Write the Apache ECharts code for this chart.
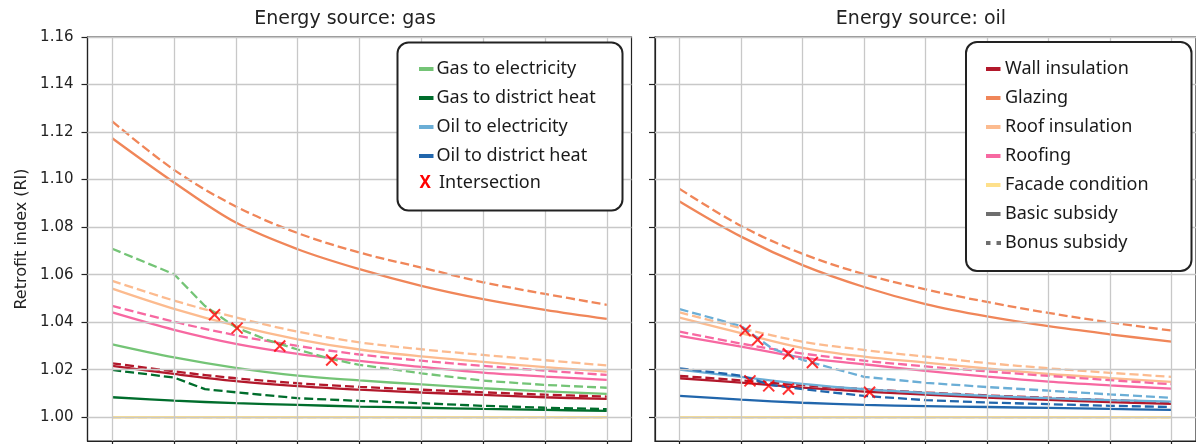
<!DOCTYPE html>
<html>
<head>
<meta charset="utf-8">
<script src="https://cdn.jsdelivr.net/npm/echarts@6/dist/echarts.min.js"></script>
<style>
html,body{margin:0;padding:0;background:#fff;}
#c{width:1196px;height:444px;}
</style>
</head>
<body>
<div id="c"></div>
<script>
// ---------- data ----------
const xs = [0, 1, 2, 3, 4, 5, 6, 7, 8];
const xGridValues = [0, 1, 2, 3, 4, 5, 6, 7, 8];
const yTickValues = [1.00, 1.02, 1.04, 1.06, 1.08, 1.10, 1.12, 1.14, 1.16];

// Energy source: gas
const gasFacadeBasic  = [1.0, 1.0, 1.0, 1.0, 1.0, 1.0, 1.0, 1.0, 1.0];
const gasFacadeBonus  = [1.0, 1.0, 1.0, 1.0, 1.0, 1.0, 1.0, 1.0, 1.0];
const gasWallBasic    = [1.0216, 1.0182, 1.0152, 1.0131, 1.0116, 1.0104, 1.0094, 1.0084, 1.0077];
const gasWallBonus    = [1.0227, 1.0193, 1.0164, 1.0143, 1.0128, 1.0116, 1.0105, 1.0095, 1.0087];
const gasGlazingBasic = [1.1174, 1.0988, 1.0819, 1.0707, 1.0623, 1.0553, 1.0497, 1.0452, 1.0414];
const gasGlazingBonus = [1.1245, 1.1041, 1.0887, 1.0775, 1.0693, 1.0630, 1.0568, 1.0519, 1.0473];
const gasRoofInsBasic = [1.0541, 1.0456, 1.0385, 1.0328, 1.0285, 1.0256, 1.0233, 1.0211, 1.0192];
const gasRoofInsBonus = [1.0574, 1.0491, 1.0420, 1.0360, 1.0315, 1.0286, 1.0262, 1.0240, 1.0218];
const gasRoofingBasic = [1.0441, 1.0368, 1.0309, 1.0267, 1.0237, 1.0212, 1.0188, 1.0171, 1.0157];
const gasRoofingBonus = [1.0469, 1.0402, 1.0345, 1.0300, 1.0264, 1.0238, 1.0216, 1.0196, 1.0178];
const gasElecBasic    = [1.0307, 1.0252, 1.0208, 1.0175, 1.0155, 1.0138, 1.0122, 1.0109, 1.0098];
const gasElecBonusX   = [0, 1, 1.5, 2, 2.5, 3, 3.5, 4, 5, 6, 7, 8];
const gasElecBonus    = [1.0709, 1.0602, 1.0468, 1.0378, 1.0326, 1.0285, 1.0248, 1.0220, 1.0185, 1.0154, 1.0136, 1.0124];
const gasDHBasic      = [1.0084, 1.0070, 1.0059, 1.0052, 1.0045, 1.0040, 1.0035, 1.0031, 1.0027];
const gasDHBonusX     = [0, 1, 1.5, 2, 3, 4, 5, 6, 7, 8];
const gasDHBonus      = [1.0199, 1.0167, 1.0118, 1.0105, 1.0080, 1.0069, 1.0059, 1.0048, 1.0040, 1.0034];
const gasIntersectX   = [1.655, 2.02, 2.71, 3.55];
const gasIntersectY   = [1.0431, 1.0375, 1.0300, 1.0241];

// Energy source: oil
const oilFacadeBasic  = [1.0, 1.0, 1.0, 1.0, 1.0, 1.0, 1.0, 1.0, 1.0];
const oilFacadeBonus  = [1.0, 1.0, 1.0, 1.0, 1.0, 1.0, 1.0, 1.0, 1.0];
const oilWallBasic    = [1.0164, 1.0146, 1.0125, 1.0108, 1.0095, 1.0083, 1.0073, 1.0064, 1.0056];
const oilWallBonus    = [1.0174, 1.0155, 1.0135, 1.0118, 1.0104, 1.0092, 1.0082, 1.0072, 1.0063];
const oilGlazingBasic = [1.0908, 1.0760, 1.0640, 1.0548, 1.0476, 1.0424, 1.0383, 1.0349, 1.0318];
const oilGlazingBonus = [1.0961, 1.0805, 1.0688, 1.0602, 1.0538, 1.0485, 1.0439, 1.0399, 1.0365];
const oilRoofInsBasic = [1.0419, 1.0354, 1.0292, 1.0255, 1.0230, 1.0205, 1.0182, 1.0165, 1.0149];
const oilRoofInsBonus = [1.0441, 1.0375, 1.0318, 1.0283, 1.0255, 1.0228, 1.0206, 1.0187, 1.0170];
const oilRoofingBasic = [1.0342, 1.0297, 1.0251, 1.0223, 1.0195, 1.0171, 1.0150, 1.0134, 1.0120];
const oilRoofingBonus = [1.0360, 1.0310, 1.0268, 1.0238, 1.0214, 1.0193, 1.0174, 1.0156, 1.0139];
const oilElecBasic    = [1.0200, 1.0170, 1.0140, 1.0118, 1.0102, 1.0090, 1.0080, 1.0072, 1.0066];
const oilElecBonusX   = [0, 1, 1.5, 2, 3, 4, 5, 6, 7, 8];
const oilElecBonus    = [1.0455, 1.0384, 1.0290, 1.0241, 1.0170, 1.0145, 1.0127, 1.0112, 1.0096, 1.0082];
const oilDHBasic      = [1.0090, 1.0074, 1.0061, 1.0052, 1.0047, 1.0043, 1.0039, 1.0035, 1.0031];
const oilDHBonusX     = [0, 1, 1.5, 2, 3, 4, 5, 6, 7, 8];
const oilDHBonus      = [1.0206, 1.0175, 1.0135, 1.0118, 1.0090, 1.0072, 1.0062, 1.0055, 1.0048, 1.0043];
const oilIntersectX   = [1.065, 1.27, 1.77, 2.16, 1.145, 1.45, 1.77, 3.09];
const oilIntersectY   = [1.0365, 1.0326, 1.0267, 1.0230, 1.0153, 1.0132, 1.0119, 1.0105];

// text
const panelTitles = ['Energy source: gas', 'Energy source: oil'];
const yAxisTitle = 'Retrofit index (RI)';
const legendConversions = ['Gas to electricity', 'Gas to district heat', 'Oil to electricity', 'Oil to district heat', 'Intersection'];
const legendMeasures = ['Wall insulation', 'Glazing', 'Roof insulation', 'Roofing', 'Facade condition', 'Basic subsidy', 'Bonus subsidy'];

// ---------- styles ----------
const C = {
  wall: '#b2182b', glazing: '#f08659', roofIns: '#fcbb8f', roofing: '#f768a1', facade: '#fee08b',
  gasElec: '#74c476', gasDH: '#006d2c', oilElec: '#6baed6', oilDH: '#2166ac', cross: '#ff0000', grey: '#6e6e6e'
};
const LW = 2.3;
const DASH = [9, 4];

function pairs(xArr, yArr) { return xArr.map((x, i) => [x, yArr[i]]); }
function line(name, xArr, yArr, color, bonus, ai, z, smooth) {
  return {
    name: name, type: 'line', xAxisIndex: ai, yAxisIndex: ai,
    data: pairs(xArr, yArr), showSymbol: false, symbol: 'none',
    smooth: smooth === undefined ? 0.35 : smooth, silent: true, z: z || 3,
    lineStyle: { color: color, width: LW, type: bonus ? DASH : 'solid', cap: 'butt' }
  };
}
function crosses(xArr, yArr, ai) {
  return {
    type: 'scatter', xAxisIndex: ai, yAxisIndex: ai, silent: true, z: 10,
    data: pairs(xArr, yArr),
    symbol: 'path://M0,0L10,10M10,0L0,10', symbolSize: 11,
    itemStyle: { color: 'none', borderColor: C.cross, borderWidth: 2 }
  };
}
function gridLines(ai) {
  return {
    type: 'line', xAxisIndex: ai, yAxisIndex: ai, data: [], silent: true, z: 1,
    markLine: {
      silent: true, symbol: ['none', 'none'], animation: false,
      label: { show: false },
      lineStyle: { color: '#c8c8c8', width: 1.3, type: 'solid' },
      emphasis: { disabled: true },
      data: xGridValues.map(v => ({ xAxis: v })).concat(yTickValues.map(v => ({ yAxis: v })))
    }
  };
}

const series = [
  gridLines(0), gridLines(1),
  // gas
  line('Facade condition basic', xs, gasFacadeBasic, C.facade, false, 0),
  line('Facade condition bonus', xs, gasFacadeBonus, C.facade, true, 0),
  line('Wall insulation basic', xs, gasWallBasic, C.wall, false, 0),
  line('Wall insulation bonus', xs, gasWallBonus, C.wall, true, 0),
  line('Glazing basic', xs, gasGlazingBasic, C.glazing, false, 0),
  line('Glazing bonus', xs, gasGlazingBonus, C.glazing, true, 0),
  line('Roof insulation basic', xs, gasRoofInsBasic, C.roofIns, false, 0),
  line('Roof insulation bonus', xs, gasRoofInsBonus, C.roofIns, true, 0),
  line('Roofing basic', xs, gasRoofingBasic, C.roofing, false, 0),
  line('Roofing bonus', xs, gasRoofingBonus, C.roofing, true, 0),
  line('Gas to electricity basic', xs, gasElecBasic, C.gasElec, false, 0, 4),
  line('Gas to electricity bonus', gasElecBonusX, gasElecBonus, C.gasElec, true, 0, 4, false),
  line('Gas to district heat basic', xs, gasDHBasic, C.gasDH, false, 0, 4),
  line('Gas to district heat bonus', gasDHBonusX, gasDHBonus, C.gasDH, true, 0, 4, false),
  crosses(gasIntersectX, gasIntersectY, 0),
  // oil
  line('Facade condition basic', xs, oilFacadeBasic, C.facade, false, 1),
  line('Facade condition bonus', xs, oilFacadeBonus, C.facade, true, 1),
  line('Wall insulation basic', xs, oilWallBasic, C.wall, false, 1),
  line('Wall insulation bonus', xs, oilWallBonus, C.wall, true, 1),
  line('Glazing basic', xs, oilGlazingBasic, C.glazing, false, 1),
  line('Glazing bonus', xs, oilGlazingBonus, C.glazing, true, 1),
  line('Roof insulation basic', xs, oilRoofInsBasic, C.roofIns, false, 1),
  line('Roof insulation bonus', xs, oilRoofInsBonus, C.roofIns, true, 1),
  line('Roofing basic', xs, oilRoofingBasic, C.roofing, false, 1),
  line('Roofing bonus', xs, oilRoofingBonus, C.roofing, true, 1),
  line('Oil to electricity basic', xs, oilElecBasic, C.oilElec, false, 1, 4),
  line('Oil to electricity bonus', oilElecBonusX, oilElecBonus, C.oilElec, true, 1, 4, false),
  line('Oil to district heat basic', xs, oilDHBasic, C.oilDH, false, 1, 4),
  line('Oil to district heat bonus', oilDHBonusX, oilDHBonus, C.oilDH, true, 1, 4, false),
  crosses(oilIntersectX, oilIntersectY, 1)
];

const AX = '#222';
function xAxis(gi) {
  return {
    gridIndex: gi, type: 'value', min: -0.4, max: 8.4,
    axisLine: { show: true, onZero: false, lineStyle: { color: AX, width: 1.2 } },
    axisTick: { show: true, customValues: xGridValues, length: 5, lineStyle: { color: AX, width: 1.2 } },
    axisLabel: { show: false },
    splitLine: { show: false }
  };
}
function yAxis(gi) {
  const a = {
    gridIndex: gi, type: 'value', min: 0.99, max: 1.16,
    axisLine: { show: true, onZero: false, lineStyle: { color: AX, width: 1.2 } },
    axisTick: { show: true, customValues: yTickValues, length: 6, lineStyle: { color: AX, width: 1.2 } },
    axisLabel: {
      show: gi === 0, customValues: yTickValues, margin: 14,
      formatter: v => Number(v).toFixed(2),
      fontFamily: 'DejaVu Sans', fontSize: 15, color: AX
    },
    splitLine: { show: false }
  };
  if (gi === 0) {
    a.name = yAxisTitle;
    a.nameLocation = 'middle';
    a.nameGap = 58;
    a.nameTextStyle = { fontFamily: 'DejaVu Sans', fontSize: 16, color: AX };
  }
  return a;
}

// ---------- legends (graphic) ----------
const LEG_FONT = '18px "Noto Sans", sans-serif';
function legendBox(x, y, w, h) {
  return { type: 'rect', z: 100, shape: { x: x, y: y, width: w, height: h, r: 11 },
           style: { fill: '#fff', stroke: '#222', lineWidth: 2 } };
}
function swatch(x, yc, color) {
  return { type: 'rect', z: 101, shape: { x: x, y: yc - 2, width: 14.5, height: 4 }, style: { fill: color } };
}
function ltext(x, yc, t) {
  return { type: 'text', z: 101, x: x, y: yc,
           style: { text: t, font: LEG_FONT, fill: '#1a1a1a', textVerticalAlign: 'middle', verticalAlign: 'middle' } };
}
const graphics = [];
// left legend
graphics.push(legendBox(397.5, 42.5, 225, 168));
const convColors = [C.gasElec, C.gasDH, C.oilElec, C.oilDH];
const convRows = [69, 98, 127, 156, 183];
legendConversions.forEach((t, i) => {
  if (i < 4) {
    graphics.push(swatch(419, convRows[i], convColors[i]));
    graphics.push(ltext(436.5, convRows[i], t));
  } else {
    graphics.push({ type: 'text', z: 101, x: 419.5, y: convRows[i],
      style: { text: 'X', font: 'bold 17px "Noto Sans", sans-serif', fill: C.cross, textVerticalAlign: 'middle', verticalAlign: 'middle' } });
    graphics.push(ltext(439, convRows[i], t));
  }
});
// right legend
graphics.push(legendBox(966, 42, 225.5, 229));
const measColors = [C.wall, C.glazing, C.roofIns, C.roofing, C.facade, C.grey];
const measRows = [69, 98, 127, 156, 185, 214, 243];
legendMeasures.forEach((t, i) => {
  if (i < 6) {
    graphics.push(swatch(986, measRows[i], measColors[i]));
  } else {
    graphics.push({ type: 'rect', z: 101, shape: { x: 986, y: measRows[i] - 2, width: 4.5, height: 4 }, style: { fill: C.grey } });
    graphics.push({ type: 'rect', z: 101, shape: { x: 996.5, y: measRows[i] - 2, width: 4.5, height: 4 }, style: { fill: C.grey } });
  }
  graphics.push(ltext(1005, measRows[i], t));
});

const option = {
  animation: false,
  backgroundColor: '#fff',
  title: [
    { text: panelTitles[0], left: 340, top: 5, textAlign: 'center',
      textStyle: { fontFamily: 'DejaVu Sans', fontSize: 19, fontWeight: 'normal', color: AX } },
    { text: panelTitles[1], left: 916, top: 5, textAlign: 'center',
      textStyle: { fontFamily: 'DejaVu Sans', fontSize: 19, fontWeight: 'normal', color: AX } }
  ],
  grid: [
    { left: 87.5, top: 37, width: 544, height: 404, show: true, borderColor: AX, borderWidth: 1.2, backgroundColor: 'transparent', containLabel: false },
    { left: 655, top: 37, width: 545.5, height: 404, show: true, borderColor: AX, borderWidth: 1.2, backgroundColor: 'transparent', containLabel: false }
  ],
  xAxis: [xAxis(0), xAxis(1)],
  yAxis: [yAxis(0), yAxis(1)],
  series: series,
  graphic: graphics
};

const chart = echarts.init(document.getElementById('c'), null, { renderer: 'canvas' });
chart.setOption(option);
</script>
</body>
</html>
